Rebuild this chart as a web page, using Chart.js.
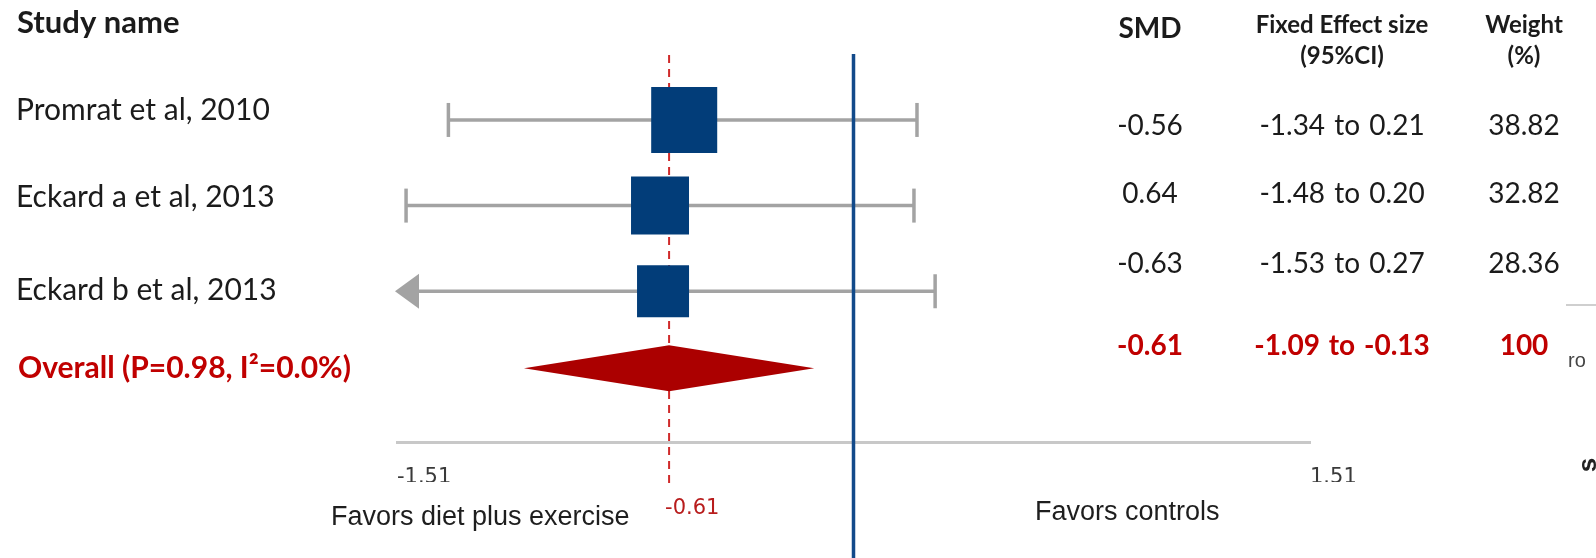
<!DOCTYPE html>
<html>
<head>
<meta charset="utf-8">
<title>Forest plot: diet plus exercise vs controls</title>
<style>
  html, body { margin: 0; padding: 0; background: #ffffff; }
  #wrap { width: 1596px; height: 558px; position: relative; }
  canvas { display: block; }
</style>
<script src="https://cdn.jsdelivr.net/npm/chart.js@4.4.1/dist/chart.umd.min.js"></script>
</head>
<body>
<div id="wrap"><canvas id="forest" width="1596" height="558"></canvas></div>
<script>
// ---- study data ----
const studyNames = ['Promrat et al, 2010', 'Eckard a et al, 2013', 'Eckard b et al, 2013'];
const smdValues  = [-0.56, -0.64, -0.63];
const smdPrinted = ['-0.56', '0.64', '-0.63'];   // text printed in the SMD column
const ciLower    = [-1.34, -1.48, -1.53];
const ciUpper    = [0.21, 0.20, 0.27];
const weightPct  = [38.82, 32.82, 28.36];

// ---- pooled estimate ----
const overallName   = 'Overall (P=0.98, I\u00B2=0.0%)';
const overallSmd    = -0.61;
const overallLower  = -1.09;
const overallUpper  = -0.13;
const overallWeight = 100;

// ---- axis ----
const axisTicks      = [-1.51, 1.51];
const axisTickLabels = ['-1.51', '1.51'];
const sideCaptions   = ['Favors diet plus exercise', 'Favors controls'];
const columnHeaders  = [['SMD'], ['Fixed Effect size', '(95%CI)'], ['Weight', '(%)']];

// ---- layout ----
const X_MIN = axisTicks[0], X_MAX = axisTicks[1];
const rowOf = i => i + 1;
const overallRow = studyNames.length + 0.9;
const squareSide = w => 14 + 1.34 * w;

const GREY = '#a3a3a3';
const NAVY = '#023d79';
const RED_TEXT = '#c00000';
const TEXT = '#1b1b1b';
const LABEL_FONT = 'Lato, "Noto Sans", sans-serif';

const LABEL_X = 16;
const labelBaselines = [120, 207, 300];
const overallLabelBaseline = 378;
const COL_X = [1150, 1342, 1524];
const tableBaselines = [135, 203, 273];
const overallTableBaseline = 355;

const forestPlugin = {
  id: 'forestDecor',
  beforeDatasetsDraw(chart) {
    const { ctx, chartArea, scales: { x, y } } = chart;
    ctx.save();

    // confidence interval whiskers
    ctx.strokeStyle = GREY;
    ctx.fillStyle = GREY;
    ctx.lineWidth = 3.5;
    studyNames.forEach((_, i) => {
      const py = y.getPixelForValue(rowOf(i));
      const clipped = ciLower[i] < X_MIN;
      const xl = x.getPixelForValue(Math.max(ciLower[i], X_MIN));
      const xr = x.getPixelForValue(Math.min(ciUpper[i], X_MAX));
      ctx.beginPath();
      ctx.moveTo(clipped ? xl + 20 : xl, py);
      ctx.lineTo(xr, py);
      ctx.stroke();
      // right cap
      ctx.beginPath();
      ctx.moveTo(xr, py - 17);
      ctx.lineTo(xr, py + 17);
      ctx.stroke();
      if (clipped) {
        // interval runs past the axis: arrow head
        ctx.beginPath();
        ctx.moveTo(xl - 2, py);
        ctx.lineTo(xl + 22, py - 17.5);
        ctx.lineTo(xl + 22, py + 17.5);
        ctx.closePath();
        ctx.fill();
      } else {
        ctx.beginPath();
        ctx.moveTo(xl, py - 17);
        ctx.lineTo(xl, py + 17);
        ctx.stroke();
      }
    });

    // line of no effect
    const x0 = x.getPixelForValue(0);
    ctx.strokeStyle = '#124a8a';
    ctx.lineWidth = 3.5;
    ctx.beginPath();
    ctx.moveTo(x0, chartArea.top);
    ctx.lineTo(x0, chart.height);
    ctx.stroke();

    // pooled estimate reference line
    const xp = x.getPixelForValue(overallSmd);
    ctx.strokeStyle = '#d02a2a';
    ctx.lineWidth = 2;
    ctx.setLineDash([8, 6]);
    ctx.beginPath();
    ctx.moveTo(xp, chartArea.top + 1);
    ctx.lineTo(xp, chartArea.bottom + 43);
    ctx.stroke();
    ctx.restore();
  },
  afterDatasetsDraw(chart) {
    const { ctx, scales: { x, y } } = chart;
    const py = y.getPixelForValue(overallRow);
    ctx.save();
    ctx.fillStyle = '#ab0000';
    ctx.beginPath();
    ctx.moveTo(x.getPixelForValue(overallLower), py);
    ctx.lineTo(x.getPixelForValue(overallSmd), py - 23);
    ctx.lineTo(x.getPixelForValue(overallUpper), py);
    ctx.lineTo(x.getPixelForValue(overallSmd), py + 23);
    ctx.closePath();
    ctx.fill();
    ctx.restore();
  },
  afterDraw(chart) {
    const { ctx, scales: { x } } = chart;
    ctx.save();
    ctx.textBaseline = 'alphabetic';

    // study names
    ctx.textAlign = 'left';
    ctx.fillStyle = TEXT;
    ctx.font = 'bold 31px ' + LABEL_FONT;
    ctx.fillText('Study name', LABEL_X + 1, 33);
    ctx.font = '30px ' + LABEL_FONT;
    studyNames.forEach((name, i) => ctx.fillText(name, LABEL_X, labelBaselines[i]));
    ctx.fillStyle = RED_TEXT;
    ctx.font = 'bold 30px ' + LABEL_FONT;
    ctx.fillText(overallName, LABEL_X + 2, overallLabelBaseline);

    // column headers
    ctx.textAlign = 'center';
    ctx.fillStyle = TEXT;
    ctx.font = 'bold 28px ' + LABEL_FONT;
    ctx.fillText(columnHeaders[0][0], COL_X[0], 38);
    ctx.font = 'bold 24px ' + LABEL_FONT;
    ctx.fillText(columnHeaders[1][0], COL_X[1], 33);
    ctx.fillText(columnHeaders[1][1], COL_X[1], 64);
    ctx.fillText(columnHeaders[2][0], COL_X[2], 33);
    ctx.fillText(columnHeaders[2][1], COL_X[2], 64);

    // table rows
    const ciText = (lo, hi) => lo.toFixed(2) + ' to ' + hi.toFixed(2);
    ctx.font = '28px ' + LABEL_FONT;
    studyNames.forEach((_, i) => {
      const b = tableBaselines[i];
      ctx.wordSpacing = '0px';
      ctx.fillText(smdPrinted[i], COL_X[0], b);
      ctx.fillText(weightPct[i].toFixed(2), COL_X[2], b);
      ctx.wordSpacing = '2px';
      ctx.fillText(ciText(ciLower[i], ciUpper[i]), COL_X[1], b);
    });
    ctx.fillStyle = RED_TEXT;
    ctx.font = 'bold 28px ' + LABEL_FONT;
    ctx.fillText(ciText(overallLower, overallUpper), COL_X[1], overallTableBaseline);
    ctx.wordSpacing = '0px';
    ctx.fillText(overallSmd.toFixed(2), COL_X[0], overallTableBaseline);
    ctx.fillText(String(overallWeight), COL_X[2], overallTableBaseline);

    // pooled value under the axis
    ctx.textAlign = 'left';
    ctx.font = '21px "DejaVu Sans", sans-serif';
    ctx.fillStyle = '#b81c1c';
    ctx.fillText(overallSmd.toFixed(2), x.getPixelForValue(overallSmd) - 4, 514);

    // direction captions
    ctx.fillStyle = '#1e1e1e';
    ctx.font = '27px "Liberation Sans", Arial, sans-serif';
    ctx.fillText(sideCaptions[0], 331, 525);
    ctx.fillText(sideCaptions[1], 1035, 520);

    // edge of the neighbouring panel
    ctx.strokeStyle = '#cfcfcf';
    ctx.lineWidth = 2;
    ctx.beginPath();
    ctx.moveTo(1566, 305);
    ctx.lineTo(1596, 305);
    ctx.stroke();
    ctx.fillStyle = '#444';
    ctx.font = '20px "Liberation Sans", Arial, sans-serif';
    ctx.fillText('ro', 1568, 367);
    ctx.translate(1587, 465);
    ctx.rotate(-Math.PI / 2);
    ctx.textAlign = 'center';
    ctx.font = 'bold 26px "Liberation Sans", Arial, sans-serif';
    ctx.fillStyle = '#222';
    ctx.fillText('s', 0, 9);
    ctx.restore();
  }
};

new Chart(document.getElementById('forest'), {
  type: 'scatter',
  data: {
    datasets: [{
      label: 'SMD',
      data: smdValues.map((v, i) => ({ x: v, y: rowOf(i) })),
      pointStyle: 'rect',
      pointRadius: weightPct.map(w => squareSide(w) / (2 * Math.SQRT1_2)),
      backgroundColor: NAVY,
      borderWidth: 0
    }]
  },
  options: {
    responsive: false,
    animation: false,
    events: [],
    layout: { padding: { left: 397, right: 286, top: 54, bottom: 76 } },
    plugins: { legend: { display: false }, tooltip: { enabled: false } },
    scales: {
      x: {
        type: 'linear',
        position: 'bottom',
        min: X_MIN,
        max: X_MAX,
        afterBuildTicks: s => { s.ticks = axisTicks.map(v => ({ value: v })); },
        afterFit: s => { s.height = 40; },
        grid: { display: false, drawTicks: false },
        border: { display: true, color: '#c8c8c8', width: 3 },
        ticks: {
          autoSkip: false,
          maxRotation: 0,
          align: 'start',
          padding: 23,
          color: '#3a3a3a',
          font: { family: 'DejaVu Sans', size: 21 },
          callback: (v, i) => axisTickLabels[i]
        }
      },
      y: { type: 'linear', reverse: true, min: 0.23, max: 4.76, display: false }
    }
  },
  plugins: [forestPlugin]
});
</script>
</body>
</html>
